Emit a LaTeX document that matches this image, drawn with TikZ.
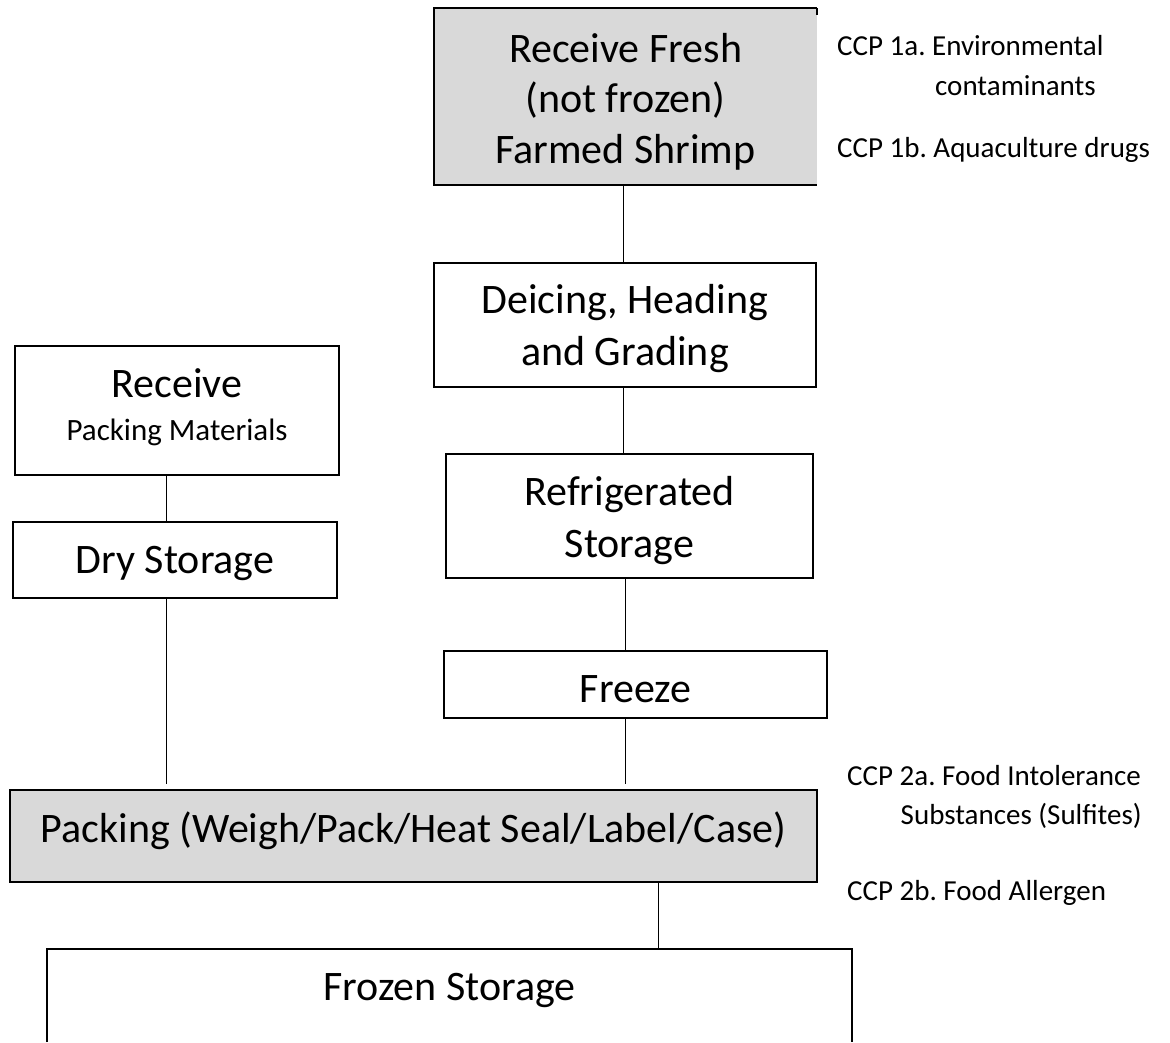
\documentclass[tikz,border=0pt]{standalone}
\usepackage{fontspec}
\setmainfont{Carlito}
\frenchspacing
\definecolor{boxgray}{HTML}{D9D9D9}
\begin{document}
\begin{tikzpicture}[x=1pt,y=-1pt,
  frame/.style={draw, line width=1.8pt, inner sep=0pt, outer sep=0pt, anchor=north west},
  plain/.style={inner sep=0pt, outer sep=0pt, anchor=north west},
  big/.style={font=\fontsize{42}{50}\selectfont, inner sep=0pt, anchor=base},
  mid/.style={font=\fontsize{31}{37}\selectfont, inner sep=0pt, anchor=base},
  note/.style={font=\fontsize{29}{35}\selectfont, inner sep=0pt, anchor=base west},
  border/.style={line width=1.8pt},
  link/.style={line width=1pt}]
\useasboundingbox (0,0) rectangle (1170,1042);
\fill[white] (0,0) rectangle (1170,1042);

% boxes
\node[plain, fill=boxgray, minimum width=383pt, minimum height=177pt] (fresh) at (434,8) {};
\draw[border] (fresh.north east) -- (fresh.north west) -- (fresh.south west) -- (fresh.south east);
\draw[border] (fresh.north east) -- ++(0,7);
\node[frame, minimum width=382pt, minimum height=124pt] (deice) at (434,263) {};
\node[frame, minimum width=324pt, minimum height=129pt] (rpm) at (15,346) {};
\node[frame, minimum width=324pt, minimum height=76pt] (dry) at (13,522) {};
\node[frame, minimum width=367pt, minimum height=124pt] (refrig) at (446,454) {};
\node[frame, minimum width=383pt, minimum height=67pt] (freeze) at (444,651) {};
\node[frame, fill=boxgray, minimum width=807pt, minimum height=92pt] (packing) at (10,790) {};
\node[plain, minimum width=805pt, minimum height=93pt] (frozen) at (47,949) {};
\draw[border] (frozen.south west) -- (frozen.north west) -- (frozen.north east) -- (frozen.south east);

% box texts
\node[big] (t1a) at (625.5,62) {Receive Fresh};
\node[big] (t1b) at (625.5,112) {(not frozen)};
\node[big] (t1c) at (625.5,163) {Farmed Shrimp};
\node[big] (t2a) at (625,313) {Deicing, Heading};
\node[big] (t2b) at (625,365) {and Grading};
\node[big] (t3a) at (177,397) {Receive};
\node[mid] (t3b) at (177,440) {Packing Materials};
\node[big] (t4) at (175,573) {Dry Storage};
\node[big] (t5a) at (629.5,505) {Refrigerated};
\node[big] (t5b) at (629.5,557) {Storage};
\node[big] (t6) at (635.5,702) {Freeze};
\node[big] (t7) at (413.5,842) {Packing (Weigh/Pack/Heat Seal/Label/Case)};
\node[big] (t8) at (449.5,1000) {Frozen Storage};

% notes
\node[note] (n1) at (837,55) {CCP 1a. Environmental};
\node[note] (n2) at (935,95) {contaminants};
\node[note] (n3) at (837,157) {CCP 1b. Aquaculture drugs};
\node[note] (n4) at (847,785) {CCP 2a. Food Intolerance};
\node[note, anchor=base east] (n5) at (1142,824) {Substances (Sulfites)};
\node[note] (n6) at (847,900) {CCP 2b. Food Allergen};

% connectors
\coordinate (cx) at (623,0);
\coordinate (lx) at (166,0);
\coordinate (px) at (658,0);
\coordinate (gap) at (0,784);
\draw[link] (fresh.south -| cx) -- (deice.north -| cx);
\draw[link] (deice.south -| cx) -- (refrig.north -| cx);
\draw[link] (refrig.south -| freeze.north) ++(-10,0) coordinate (r1) (r1) -- (r1 |- freeze.north);
\draw[link] (freeze.south -| r1) -- (gap -| r1);
\draw[link] (rpm.south -| lx) -- (dry.north -| lx);
\draw[link] (dry.south -| lx) -- (gap -| lx);
\draw[link] (packing.south -| px) -- (frozen.north -| px);
\end{tikzpicture}
\end{document}
